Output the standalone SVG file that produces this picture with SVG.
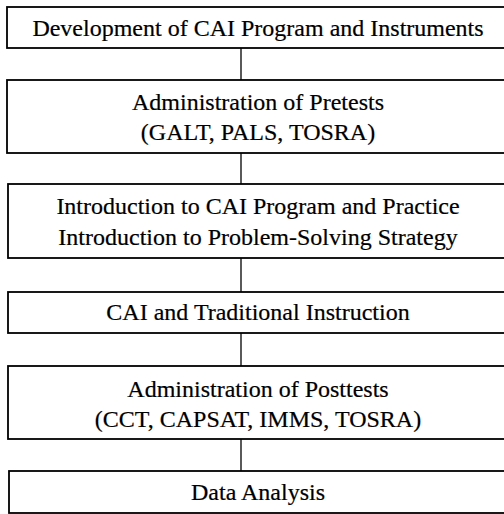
<svg xmlns="http://www.w3.org/2000/svg" width="504" height="514" viewBox="0 0 504 514">
  <style>
    .box { fill: #ffffff; stroke: #000000; stroke-width: 1.8; }
    .lbl { font-family: "Liberation Serif", "DejaVu Serif", serif; font-size: 24px; fill: #000000; stroke: #000000; stroke-width: 0.2; text-anchor: middle; }
    .link { stroke: #000000; stroke-width: 1.3; fill: none; }
  </style>
  <rect width="504" height="514" fill="#ffffff"/>

  <!-- vertical links between consecutive steps -->
  <g id="connectors">
    <line class="link" x1="241" y1="48" x2="241" y2="80"/>
    <line class="link" x1="241" y1="153" x2="241" y2="184"/>
    <line class="link" x1="241" y1="258" x2="241" y2="292"/>
    <line class="link" x1="241" y1="333" x2="241" y2="366"/>
    <line class="link" x1="241" y1="439" x2="241" y2="471"/>
  </g>

  <g id="step-development">
    <rect class="box" x="7" y="7" width="510" height="41"/>
    <text class="lbl" x="258" y="36">Development of CAI Program and Instruments</text>
  </g>

  <g id="step-pretests">
    <rect class="box" x="7" y="80" width="510" height="73"/>
    <text class="lbl" x="258" y="110">Administration of Pretests</text>
    <text class="lbl" x="258" y="140">(GALT, PALS, TOSRA)</text>
  </g>

  <g id="step-introduction">
    <rect class="box" x="8" y="184" width="510" height="74"/>
    <text class="lbl" x="258" y="214">Introduction to CAI Program and Practice</text>
    <text class="lbl" x="258" y="245">Introduction to Problem-Solving Strategy</text>
  </g>

  <g id="step-instruction">
    <rect class="box" x="8" y="292" width="510" height="41"/>
    <text class="lbl" x="258" y="320">CAI and Traditional Instruction</text>
  </g>

  <g id="step-posttests">
    <rect class="box" x="8" y="366" width="510" height="73"/>
    <text class="lbl" x="258" y="397">Administration of Posttests</text>
    <text class="lbl" x="258" y="427">(CCT, CAPSAT, IMMS, TOSRA)</text>
  </g>

  <g id="step-analysis">
    <rect class="box" x="9" y="471" width="510" height="42"/>
    <text class="lbl" x="258" y="500">Data Analysis</text>
  </g>
</svg>
